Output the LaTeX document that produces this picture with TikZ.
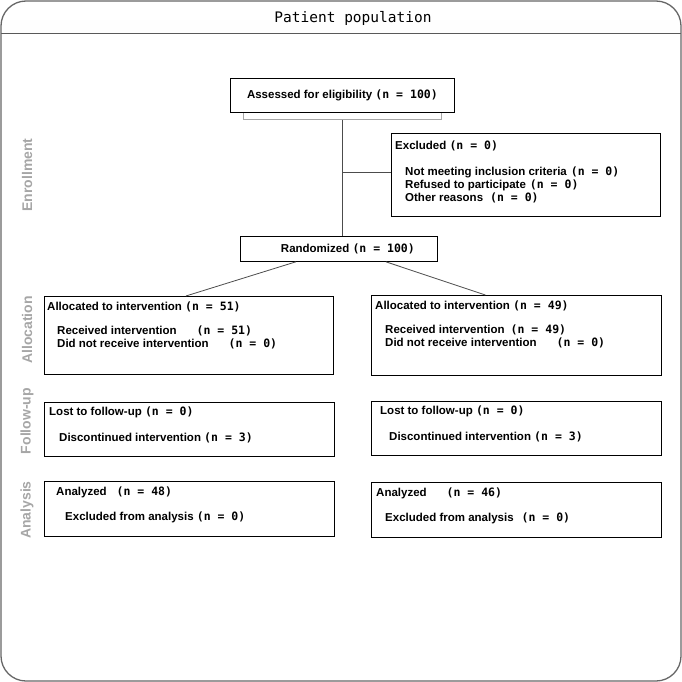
\documentclass[tikz,border=0pt]{standalone}
\usepackage{fontspec}
\setmainfont{Liberation Sans}
\newfontfamily\monofont{DejaVu Sans Mono}
\usetikzlibrary{positioning}

% counts are set in a monospace face
\newcommand{\nval}[1]{{\monofont\bfseries\fontsize{11.5}{13}\selectfont #1}}

\tikzset{
  box/.style={draw, line width=0.8pt, anchor=north west, inner sep=0pt,
              font=\bfseries\fontsize{11.5}{13}\selectfont},
  txt/.style={anchor=north west, align=left, inner sep=0pt,
              font=\bfseries\fontsize{11.5}{13}\selectfont},
  conn/.style={draw=black!70, line width=0.8pt},
  phase/.style={rotate=90, text=black!35, font=\bfseries\fontsize{14}{16}\selectfont}
}

\begin{document}
\begin{tikzpicture}[x=1pt, y=-1pt]
\useasboundingbox (0,0) rectangle (682,682);

% frame and title band
\begin{scope}
  \clip (0,0) rectangle (682,33);
  \shade[top color=white, bottom color=black!7, rounded corners=25pt] (1,1) rectangle (681,681);
\end{scope}
\draw[black!65, line width=0.8pt] (1,33) -- (681,33);
\draw[black!60, line width=1.3pt, rounded corners=25pt] (1,1) rectangle (681,681);
\node[font=\monofont\fontsize{14.5}{16}\selectfont] (title) at (353,18) {Patient population};

% phases
\node[phase] (enrol) at (27,175) {Enrollment};
\node[phase] (alloc) at (27,330) {Allocation};
\node[phase] (follow) at (27,421) {Follow-up};
\node[phase] (anal) at (27,510) {Analysis};

% enrollment
\node[box, minimum width=224pt, minimum height=34pt] (assess) at (230,78)
  {Assessed for eligibility \nval{(n = 100)}};
\node[box, minimum width=269pt, minimum height=83pt] (excl) at (391,133) {};
\node[txt, below right=8pt and 4pt of excl.north west] (excl-t)
  {Excluded \nval{(n = 0)}\\[13pt]
   \hspace*{10pt}Not meeting inclusion criteria\hspace{4pt}\nval{(n = 0)}\\
   \hspace*{10pt}Refused to participate\hspace{4pt}\nval{(n = 0)}\\
   \hspace*{10pt}Other reasons\hspace{7pt}\nval{(n = 0)}};
\node[box, minimum width=197pt, minimum height=25pt] (rand) at (240,236)
  {\hspace*{18pt}Randomized \nval{(n = 100)}};

% allocation
\node[box, minimum width=289pt, minimum height=78pt] (allocL) at (44,296) {};
\node[txt, below right=6pt and 3pt of allocL.north west] (allocL-t)
  {Allocated to intervention \nval{(n = 51)}\\[11pt]
   \hspace*{10pt}Received intervention\hspace{20pt}\nval{(n = 51)}\\
   \hspace*{10pt}Did not receive intervention\hspace{20pt}\nval{(n = 0)}};
\node[box, minimum width=290pt, minimum height=80pt] (allocR) at (371,295) {};
\node[txt, below right=6pt and 4pt of allocR.north west] (allocR-t)
  {Allocated to intervention \nval{(n = 49)}\\[11pt]
   \hspace*{10pt}Received intervention\hspace{6pt}\nval{(n = 49)}\\
   \hspace*{10pt}Did not receive intervention\hspace{20pt}\nval{(n = 0)}};

% follow-up
\node[box, minimum width=290pt, minimum height=54pt] (followL) at (44,402) {};
\node[txt, below right=5pt and 5pt of followL.north west] (followL-t)
  {Lost to follow-up \nval{(n = 0)}\\[13pt]
   \hspace*{10pt}Discontinued intervention \nval{(n = 3)}};
\node[box, minimum width=290pt, minimum height=54pt] (followR) at (371,401) {};
\node[txt, below right=5pt and 9pt of followR.north west] (followR-t)
  {Lost to follow-up \nval{(n = 0)}\\[13pt]
   \hspace*{9pt}Discontinued intervention \nval{(n = 3)}};

% analysis
\node[box, minimum width=290pt, minimum height=55pt] (analL) at (44,481) {};
\node[txt, below right=6pt and 12pt of analL.north west] (analL-t)
  {Analyzed\hspace{10pt}\nval{(n = 48)}\\[12pt]
   \hspace*{9pt}Excluded from analysis \nval{(n = 0)}};
\node[box, minimum width=290pt, minimum height=55pt] (analR) at (371,482) {};
\node[txt, below right=6pt and 5pt of analR.north west] (analR-t)
  {Analyzed\hspace{20pt}\nval{(n = 46)}\\[12pt]
   \hspace*{9pt}Excluded from analysis\hspace{8pt}\nval{(n = 0)}};

% connectors
\draw[black!35, line width=0.8pt] ([xshift=13pt]assess.south west) -- ++(0,7)
  -| ([xshift=-13pt]assess.south east);
\draw[conn] ([yshift=-7pt]assess.south) -- (assess.south |- rand.north);
\draw[conn] ([yshift=2.5pt]excl.west) -- ([yshift=2.5pt]excl.west -| assess.south);
\draw[conn] ([xshift=-43pt]rand.south) -- ([xshift=-3pt]allocL.north);
\draw[conn] ([xshift=47pt]rand.south) -- ([xshift=-31pt]allocR.north);

\end{tikzpicture}
\end{document}
